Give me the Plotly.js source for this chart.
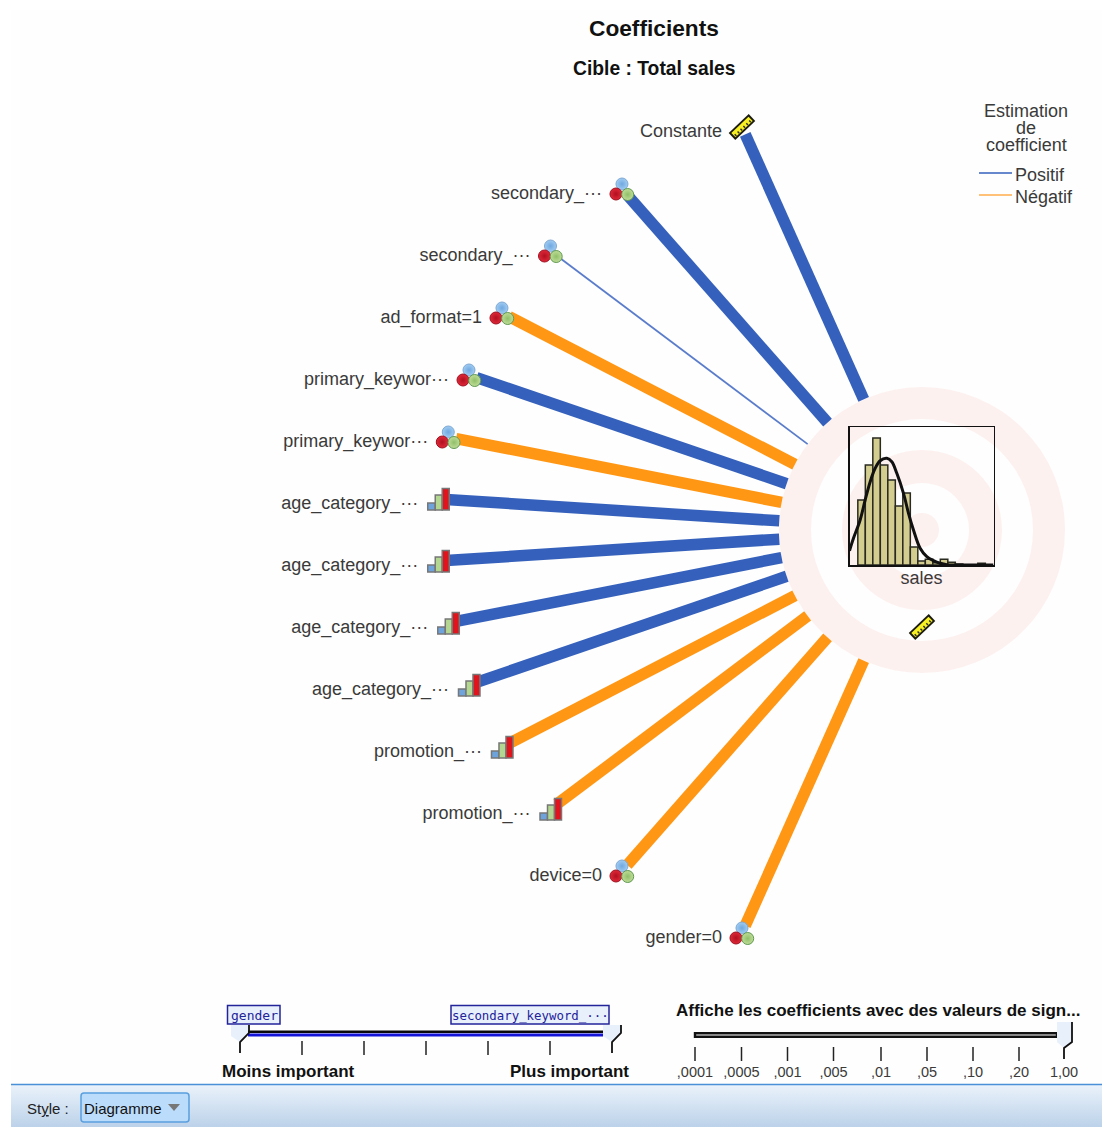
<!DOCTYPE html>
<html>
<head>
<meta charset="utf-8">
<script src="https://cdn.plot.ly/plotly-3.0.0.min.js"></script>
<style>html,body{margin:0;padding:0;background:#fff}#chart{width:1102px;height:1127px}</style>
</head>
<body>
<div id="chart"></div>
<script>
// ---- data ----
const predictorLabels = ['Constante','secondary_···','secondary_···','ad_format=1','primary_keywor···','primary_keywor···',
  'age_category_···','age_category_···','age_category_···','age_category_···','promotion_···','promotion_···','device=0','gender=0'];
const predictorKinds = ['scale','nominal','nominal','nominal','nominal','nominal','ordinal','ordinal','ordinal','ordinal','ordinal','ordinal','nominal','nominal'];
const coefficients = [1,1,0.15,-1,1,-1,1,1,1,1,-1,-1,-1,-1];
const histCounts = [65,100,127,100,85,59,72,18,4,5.7,2.3,5.7,2.7,1,0,0,1.7,0];
const curveX = [0,0.53,1.42,2.09,2.76,3.42,4.09,4.98,5.64,6.31,7.2,7.87,8.53,9.42,10.31,11.2,12.09,12.98,14.31,19.2];
const curveY = [14.3,26.7,45,65,83.3,96.7,104.3,106.7,103.3,91.7,71.7,51.7,35,16.7,8.3,4.3,1.7,0.3,0,0];
const importanceTickCount = 7;
const sigTickLabels = [',0001',',0005',',001',',005',',01',',05',',10',',20','1,00'];
const sigTickX = [695,741.5,787.5,833.5,881,927,973,1019,1064];
const legendNames = ['Positif','Négatif'];

// ---- layout helpers ----
const W = 1102, H = 1127, BG = '#fdfefd';
const cx = 922, cy = 530, ringR = 143, ellA = 485, ellB = 434, stepY = 62;
const BLUE = '#3560bb', ORANGE = '#ff9614', TXT = '#3a3a3a';
const FONT = 'Liberation Sans, Arial, sans-serif';
const n = predictorLabels.length;
const nodeY = predictorLabels.map((_, i) => cy + stepY * (i - (n - 1) / 2));
const nodeX = nodeY.map(y => cx - ellA * Math.sqrt(1 - Math.pow((y - cy) / ellB, 2)));

const traces = [];
const shapes = [];
const annotations = [];

function txt(x, y, text, size, opts) {
  annotations.push(Object.assign({x, y, text, xref:'x', yref:'y', showarrow:false, xanchor:'center', yanchor:'middle',
    font:{family:FONT, size, color:TXT}}, opts || {}));
}
function poly(d, fill, line, lw, layer) {
  shapes.push({type:'path', path:d, xref:'x', yref:'y', fillcolor:fill || 'rgba(0,0,0,0)',
    line:{color:line || 'rgba(0,0,0,0)', width:lw || 0}, layer:layer || 'above'});
}
function rect(x0, y0, x1, y1, fill, line, lw, layer) {
  shapes.push({type:'rect', xref:'x', yref:'y', x0, y0, x1, y1, fillcolor:fill,
    line:{color:line || 'rgba(0,0,0,0)', width:lw || 0}, layer:layer || 'above'});
}

// background + target rings
rect(11, 10, W, 1084, BG, null, 0, 'below');
[[143,'#fdf1f0'],[111,BG],[80,'#fdf1f0'],[47,BG],[17,'#fdf1f0']].forEach(r => {
  shapes.push({type:'circle', xref:'x', yref:'y', x0:cx-r[0], x1:cx+r[0], y0:cy-r[0], y1:cy+r[0],
    fillcolor:r[1], line:{width:0}, layer:'below'});
});

// spokes
coefficients.forEach((v, i) => {
  const dx = cx - nodeX[i], dy = cy - nodeY[i], d = Math.hypot(dx, dy);
  const ux = dx / d, uy = dy / d;
  const w = Math.max(1.8, 11.5 * Math.abs(v));
  traces.push({type:'scatter', mode:'lines', x:[nodeX[i] + ux * 8, cx - ux * ringR], y:[nodeY[i] + uy * 8, cy - uy * ringR],
    line:{color:v > 0 ? (Math.abs(v) < 0.5 ? '#5a7ccb' : BLUE) : ORANGE, width:w}, hoverinfo:'skip', showlegend:false});
});

// nominal icons: three balls
const nomIdx = predictorKinds.map((k, i) => k === 'nominal' ? i : -1).filter(i => i >= 0);
[[0,-5,'#a0ccf2','#6fa8e0','#7fa8d4'],[-6,5,'#e02838','#b01020','#a01020'],[5.7,5.5,'#c0dc98','#8fbf68','#5f9a50']].forEach(b => {
  traces.push({type:'scatter', mode:'markers', x:nomIdx.map(i => nodeX[i] + b[0]), y:nomIdx.map(i => nodeY[i] + b[1]),
    marker:{size:12, color:b[2], gradient:{type:'radial', color:b[3]}, line:{color:b[4], width:1}}, hoverinfo:'skip', showlegend:false});
});

// ordinal icons: three little bars
predictorKinds.forEach((k, i) => {
  if (k !== 'ordinal') return;
  const x = nodeX[i], y = nodeY[i];
  rect(x-10.5, y+4, x-3, y+11, '#6fa3dc', '#777', 1.5);
  rect(x-3, y-4, x+4, y+11, '#b3d690', '#777', 1.5);
  rect(x+4, y-10.5, x+11, y+11, '#e0141c', '#777', 1.5);
});

// scale icons: rulers
function ruler(x, y) {
  const ax = 10, ay = 9.5;
  traces.push({type:'scatter', mode:'lines', x:[x-ax, x+ax], y:[y+ay, y-ay], line:{color:'#1a1a10', width:9.5}, hoverinfo:'skip', showlegend:false});
  traces.push({type:'scatter', mode:'lines', x:[x-ax+1.4, x+ax-1.4], y:[y+ay-1.3, y-ay+1.3], line:{color:'#f7f023', width:6}, hoverinfo:'skip', showlegend:false});
  traces.push({type:'scatter', mode:'lines', x:[x-ax+2+1, x+ax-2+1], y:[y+ay-1.9+1, y-ay+1.9+1], line:{color:'#333', width:2.5, dash:'1.5px,2.5px'}, hoverinfo:'skip', showlegend:false});
}
predictorKinds.forEach((k, i) => { if (k === 'scale') ruler(nodeX[i], nodeY[i]); });
ruler(cx, 627);

// predictor labels
traces.push({type:'scatter', mode:'text', x:nodeX.map(v => v - 20), y:nodeY.map(v => v + 5.5), text:predictorLabels,
  textposition:'middle left', textfont:{family:FONT, size:18, color:TXT}, hoverinfo:'skip', showlegend:false});

// histogram in the hub
traces.push({type:'bar', x:histCounts.map((_, i) => 1.11 + 0.5 + i), y:histCounts, width:1, xaxis:'x2', yaxis:'y2',
  marker:{color:'#d3cd90', line:{color:'#2a2a20', width:1.5}}, hoverinfo:'skip', showlegend:false});
traces.push({type:'scatter', mode:'lines', x:curveX, y:curveY, xaxis:'x2', yaxis:'y2',
  line:{color:'#111', width:3, shape:'spline'}, hoverinfo:'skip', showlegend:false, cliponaxis:false});

// legend
[[173,BLUE,175],[195,'#ffac4a',197]].forEach((l, i) => {
  traces.push({type:'scatter', mode:'lines', x:[979, 1012], y:[l[0], l[0]], name:legendNames[i], line:{color:l[1], width:1.5}, hoverinfo:'skip', showlegend:false});
  txt(1013, l[2], legendNames[i], 18, {xanchor:'left'});
});
txt(1026, 111, 'Estimation', 18);
txt(1026, 128, 'de', 18);
txt(1026, 145, 'coefficient', 18);

// titles
txt(654, 28, '<b>Coefficients</b>', 22.7, {font:{family:FONT, size:22.7, color:'#111'}});
txt(654.5, 68, '<b>Cible : Total sales</b>', 19.3, {font:{family:FONT, size:19.3, color:'#111'}});

// importance slider
const impBox = '#e8f0fc', navy = '#23239a';
rect(227.5, 1005.5, 280, 1024, impBox, navy, 1.5);
rect(451, 1005.5, 609, 1024, impBox, navy, 1.5);
txt(254, 1015, 'gender', 13.5, {font:{family:'DejaVu Sans Mono, monospace', size:13, color:navy}});
txt(530, 1015, 'secondary_keyword_···', 13, {font:{family:'DejaVu Sans Mono, monospace', size:12.4, color:navy}});
poly('M231,1025 L249,1025 L249,1033 L240,1042 L231,1036 Z', impBox);
poly('M603,1025 L621,1025 L621,1033 L612,1042 L603,1036 Z', impBox);
rect(248, 1030.5, 603, 1033, '#0a0a0a');
rect(248, 1033.5, 603, 1036.5, '#1414d8');
poly('M249,1025 L249,1033 L240,1042 L240,1053', null, '#111', 1.8);
poly('M621,1025 L621,1033 L612,1042 L612,1053', null, '#111', 1.8);
const impTicks = Array.from({length:importanceTickCount}, (_, i) => 240 + i * (612 - 240) / (importanceTickCount - 1));
traces.push({type:'scatter', mode:'markers', x:impTicks.slice(1, -1), y:impTicks.slice(1, -1).map(() => 1048),
  marker:{symbol:'line-ns', size:10, line:{color:'#222', width:1.5}}, hoverinfo:'skip', showlegend:false});
txt(288, 1071, '<b>Moins important</b>', 17, {font:{family:FONT, size:17, color:'#111'}});
txt(569.5, 1071, '<b>Plus important</b>', 17, {font:{family:FONT, size:17, color:'#111'}});

// significance slider
txt(878, 1010, '<b>Affiche les coefficients avec des valeurs de sign...</b>', 17, {font:{family:FONT, size:17, color:'#111'}});
rect(695, 1033.3, 1057, 1036.7, '#fff', '#111', 2.4);
poly('M1057,1022 L1072,1022 L1072,1042 L1064,1048 L1057,1042 Z', impBox);
poly('M1072,1022 L1072,1042 L1064,1048 L1064,1059', null, '#111', 1.8);
traces.push({type:'scatter', mode:'markers', x:sigTickX.slice(0, -1), y:sigTickX.slice(0, -1).map(() => 1054),
  marker:{symbol:'line-ns', size:10, line:{color:'#222', width:1.5}}, hoverinfo:'skip', showlegend:false});
traces.push({type:'scatter', mode:'text', x:sigTickX, y:sigTickX.map(() => 1073), text:sigTickLabels, textposition:'middle center',
  textfont:{family:FONT, size:14.5, color:TXT}, hoverinfo:'skip', showlegend:false});

// toolbar
traces.push({type:'scatter', mode:'lines', x:[11, W, W, 11, 11], y:[1085, 1085, H, H, 1085], fill:'toself', line:{width:0},
  fillgradient:{type:'vertical', colorscale:[[0,'#bcd2e9'],[1,'#eaf2fb']]}, hoverinfo:'skip', showlegend:false});
rect(11, 1083.7, W, 1085.3, '#4a90d9');
txt(25, 1108.5, 'St<u>y</u>le :', 15, {xanchor:'left', font:{family:FONT, size:15, color:'#222'}});
poly('M84,1093 L186,1093 Q189,1093 189,1096 L189,1119 Q189,1122 186,1122 L84,1122 Q81,1122 81,1119 L81,1096 Q81,1093 84,1093 Z', '#bcdcfb', '#5a9fe0', 1.5);
txt(81.5, 1108.5, 'Diagramme', 15, {xanchor:'left', font:{family:FONT, size:15, color:'#111'}});
poly('M168,1104 L180,1104 L174,1111 Z', '#777');

const layout = {
  width:W, height:H, margin:{l:0, r:0, t:0, b:0}, paper_bgcolor:'#fff', plot_bgcolor:'rgba(0,0,0,0)',
  font:{family:FONT, color:TXT},
  xaxis:{range:[0, W], visible:false, fixedrange:true},
  yaxis:{range:[H, 0], visible:false, fixedrange:true},
  xaxis2:{domain:[849.5/W, 993.5/W], anchor:'y2', range:[0, 19.2], showline:true, mirror:true, linecolor:'#111', linewidth:1.5,
    showticklabels:false, ticks:'', showgrid:false, zeroline:false, fixedrange:true,
    title:{text:'sales', standoff:6, font:{family:FONT, size:18, color:TXT}}},
  yaxis2:{domain:[1 - 565/H, 1 - 427/H], anchor:'x2', range:[0, 138], showline:true, mirror:true, linecolor:'#111', linewidth:1.5,
    showticklabels:false, ticks:'', showgrid:false, zeroline:false, fixedrange:true},
  bargap:0,
  showlegend:false,
  shapes, annotations
};
Plotly.newPlot('chart', traces, layout, {displayModeBar:false, staticPlot:true});
</script>
</body>
</html>
